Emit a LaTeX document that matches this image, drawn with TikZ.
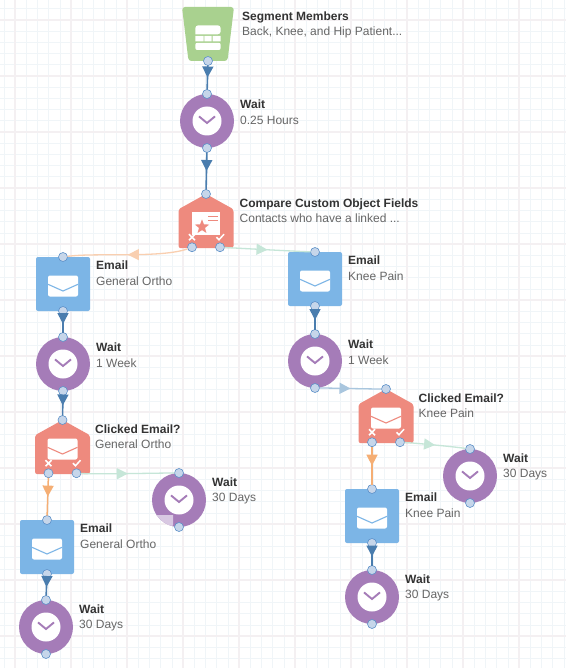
\documentclass[tikz,border=0pt]{standalone}
\usepackage{fontspec}
\setmainfont{Liberation Sans}
\usetikzlibrary{arrows.meta,positioning,shapes.symbols,decorations.markings}
\definecolor{gridmajor}{HTML}{F4F0F2}
\definecolor{gridminor}{HTML}{F0F5F8}
\definecolor{segfill}{HTML}{A9D18F}
\definecolor{waitfill}{HTML}{A57CB8}
\definecolor{waitfade}{HTML}{D8C8E2}
\definecolor{mailfill}{HTML}{7CB5E6}
\definecolor{gatefill}{HTML}{EE8A7E}
\definecolor{portfill}{HTML}{C6D6EA}
\definecolor{portline}{HTML}{5C90C8}
\definecolor{flowblue}{HTML}{4A7DAE}
\definecolor{flowpale}{HTML}{A9C6DE}
\definecolor{floworange}{HTML}{F5AE74}
\definecolor{flowpeach}{HTML}{F9CFB0}
\definecolor{flowgreen}{HTML}{C6E6D8}
\tikzset{
  seg/.style={rectangle,minimum width=52pt,minimum height=54pt,inner sep=0pt,outer sep=0pt},
  wait/.style={circle,fill=waitfill,minimum size=54pt,inner sep=0pt,outer sep=0pt},
  mail/.style={rectangle,fill=mailfill,minimum size=54pt,inner sep=0pt,outer sep=0pt,rounded corners=2pt},
  gate/.style={signal,signal to=north,signal from=nowhere,signal pointer angle=122,fill=gatefill,minimum width=55pt,minimum height=39pt,inner sep=0pt,outer sep=0pt,rounded corners=2.5pt},
  port/.style={circle,fill=portfill,draw=portline,line width=.6pt,minimum size=9pt,inner sep=0pt,outer sep=0pt},
  lbl/.style={align=left,inner sep=0pt,text=black!60,font=\fontsize{12}{15.6}\selectfont,yshift=9pt},
  tipat/.style={postaction={decorate},decoration={markings,mark=at position .5 with {\arrow[#1]{Triangle[width=11pt,length=11pt]}}}},
  flow/.style={draw=flowblue,line width=1.6pt,tipat=flowblue},
  palegreen/.style={draw=flowgreen,line width=1.3pt,tipat=flowgreen},
  paleblue/.style={draw=flowpale,line width=1.3pt,tipat=flowpale},
  peach/.style={draw=flowpeach,line width=1.3pt,tipat=flowpeach},
  amber/.style={draw=floworange,line width=1.5pt,tipat=floworange},
  clock/.pic={
    \fill[white] (0,0) circle (14.5);
    \draw[waitfill,line width=1.9pt] (-8,4.6)--(0,-2)--(8,4.6);
  },
  envelope/.pic={
    \fill[white,rounded corners=2pt] (-15,-10.5) rectangle (15,10.5);
    \draw[#1,line width=1.1pt] (-15,1.7)--(0,-5)--(15,1.7);
  },
  marks/.pic={
    \draw[white,line width=1.5pt] (-17,-3)--(-11,3) (-17,3)--(-11,-3);
    \draw[white,line width=1.5pt] (10.5,0)--(13,-2.5)--(18,3);
  },
  burger/.pic={
    \fill[white,rounded corners=3pt] (-12.7,-.3)--(-12.7,8.7)--(12.7,8.7)--(12.7,-.3)[sharp corners]--cycle;
    \fill[white] (-12.7,-7.3) rectangle (-4.5,-2) (-3.7,-7.3) rectangle (3.7,-2) (4.5,-7.3) rectangle (12.7,-2);
    \fill[white,rounded corners=2pt] (-12.7,-16) rectangle (12.7,-8.8);
  },
  card/.pic={
    \fill[white] (-14,-11.5) rectangle (14,11.5);
    \begin{scope}[shift={(-4,-3.4)}]
    \fill[gatefill] (90:7.5)--(126:3.2)--(162:7.5)--(198:3.2)--(234:7.5)--(270:3.2)--(306:7.5)--(342:3.2)--(18:7.5)--(54:3.2)--cycle;
    \end{scope}
    \draw[gatefill,line width=1.1pt] (2,7)--(12,7) (2,3)--(12,3);
  }
}
\begin{document}
\begin{tikzpicture}[x=1pt,y=1pt,every node/.style={font=\fontsize{12}{15.6}\selectfont}]
\useasboundingbox (0,0) rectangle (566,-668);
\fill[white] (0,0) rectangle (566,-668);
% grid
\foreach \n in {0,...,50} {\draw[gridminor,line width=.6pt] ({3.8+11.2*\n},0)--({3.8+11.2*\n},-668);}
\foreach \n in {0,...,60} {\draw[gridminor,line width=.6pt] (0,{-8.8-11.2*\n})--(566,{-8.8-11.2*\n});}
\foreach \n in {0,...,10} {\draw[gridmajor,line width=1.1pt] ({15+56*\n},0)--({15+56*\n},-668);}
\foreach \n in {0,...,11} {\draw[gridmajor,line width=1.1pt] (0,{-20-56*\n})--(566,{-20-56*\n});}
% centre column
\node[seg] (s1) at (208,-34) {};
\fill[segfill,rounded corners=3pt] (s1.north west)--(s1.north east)--([xshift=-6.5pt]s1.south east)--([xshift=6.5pt]s1.south west)--cycle;
\node[wait,below=33pt of s1,xshift=-1pt] (w1) {};
\node[gate,below=46pt of w1,xshift=-1pt] (g1) {};
% left column
\node[mail] (m1) at (63,-284) {};
\node[wait,below=26pt of m1] (w2) {};
\node[gate,below=29pt of w2,xshift=-.5pt] (g2) {};
\node[wait] (w3) at (179,-500) {};
\node[mail] (m2) at (47,-547) {};
\node[wait,below=26pt of m2,xshift=-1pt] (w4) {};
% right column
\node[mail] (m3) at (315,-279) {};
\node[wait,below=28pt of m3] (w5) {};
\node[gate,anchor=north] (g3) at (386,-389) {};
\node[wait] (w6) at (470,-476) {};
\node[mail] (m4) at (372,-516) {};
\node[wait,below=27pt of m4] (w7) {};
% faded corner
\begin{scope}
\clip (w3) circle (27);
\fill[waitfade] (157,-515) -| (173,-525) -- (168,-530) -- (150,-530) |- cycle;
\end{scope}
% icons
\foreach \w in {w1,w2,w3,w4,w5,w6,w7} {\pic at (\w) {clock};}
\foreach \m in {m1,m2,m3,m4} {\pic at ([yshift=-2pt]\m) {envelope=mailfill};}
\pic at (s1) {burger};
\pic at ([yshift=-29.5pt]g1.north) {card};
\pic at ([yshift=-29pt]g2.north) {envelope=gatefill};
\pic at ([yshift=-29pt]g3.north) {envelope=gatefill};
\pic at ([yshift=11pt]g1.south) {marks};
\pic at ([yshift=11pt]g2.south) {marks};
\pic at ([yshift=11pt]g3.south) {marks};
% labels
\node[lbl,right=8pt of s1] (l1) {\textcolor{black!80}{\textbf{Segment Members}}\\Back, Knee, and Hip Patient...};
\node[lbl,right=6pt of w1] (l2) {\textcolor{black!80}{\textbf{Wait}}\\0.25 Hours};
\node[lbl,right=6pt of g1,yshift=9pt] (l3) {\textcolor{black!80}{\textbf{Compare Custom Object Fields}}\\Contacts who have a linked ...};
\node[lbl,right=6pt of m1,yshift=1.5pt] (l4) {\textcolor{black!80}{\textbf{Email}}\\General Ortho};
\node[lbl,right=6pt of w2] (l5) {\textcolor{black!80}{\textbf{Wait}}\\1 Week};
\node[lbl,right=5pt of g2,yshift=9pt] (l6) {\textcolor{black!80}{\textbf{Clicked Email?}}\\General Ortho};
\node[lbl,right=6pt of w3] (l7) {\textcolor{black!80}{\textbf{Wait}}\\30 Days};
\node[lbl,right=6pt of m2,yshift=1.5pt] (l8) {\textcolor{black!80}{\textbf{Email}}\\General Ortho};
\node[lbl,right=6pt of w4] (l9) {\textcolor{black!80}{\textbf{Wait}}\\30 Days};
\node[lbl,right=6pt of m3,yshift=1.5pt] (l10) {\textcolor{black!80}{\textbf{Email}}\\Knee Pain};
\node[lbl,right=6pt of w5] (l11) {\textcolor{black!80}{\textbf{Wait}}\\1 Week};
\node[lbl,right=5pt of g3,yshift=9pt] (l12) {\textcolor{black!80}{\textbf{Clicked Email?}}\\Knee Pain};
\node[lbl,right=6pt of w6] (l13) {\textcolor{black!80}{\textbf{Wait}}\\30 Days};
\node[lbl,right=6pt of m4,yshift=1.5pt] (l14) {\textcolor{black!80}{\textbf{Email}}\\Knee Pain};
\node[lbl,right=6pt of w7] (l15) {\textcolor{black!80}{\textbf{Wait}}\\30 Days};
% ports
\node[port] (s1o) at (s1.south) {};
\node[port] (w1i) at (w1.north) {};
\node[port] (w1o) at (w1.south) {};
\node[port] (g1i) at (g1.north) {};
\node[port] (g1n) at ([xshift=-14pt,yshift=1pt]g1.south) {};
\node[port] (g1y) at ([xshift=14pt,yshift=1pt]g1.south) {};
\node[port] (m1i) at (m1.north) {};
\node[port] (m1o) at (m1.south) {};
\node[port] (w2i) at (w2.north) {};
\node[port] (w2o) at (w2.south) {};
\node[port] (g2i) at (g2.north) {};
\node[port] (g2n) at ([xshift=-14pt,yshift=1pt]g2.south) {};
\node[port] (g2y) at ([xshift=14pt,yshift=1pt]g2.south) {};
\node[port] (w3i) at (w3.north) {};
\node[port] (w3o) at (w3.south) {};
\node[port] (m2i) at (m2.north) {};
\node[port] (m2o) at (m2.south) {};
\node[port] (w4i) at (w4.north) {};
\node[port] (w4o) at (w4.south) {};
\node[port] (m3i) at (m3.north) {};
\node[port] (m3o) at (m3.south) {};
\node[port] (w5i) at (w5.north) {};
\node[port] (w5o) at (w5.south) {};
\node[port] (g3i) at (g3.north) {};
\node[port] (g3n) at ([xshift=-14pt,yshift=1pt]g3.south) {};
\node[port] (g3y) at ([xshift=14pt,yshift=1pt]g3.south) {};
\node[port] (w6i) at (w6.north) {};
\node[port] (w6o) at (w6.south) {};
\node[port] (m4i) at (m4.north) {};
\node[port] (m4o) at (m4.south) {};
\node[port] (w7i) at (w7.north) {};
\node[port] (w7o) at (w7.south) {};
% connectors
\draw[flow] (s1o)--(w1i);
\draw[flow] (w1o)--(g1i);
\draw[flow] (m1o)--(w2i);
\draw[flow] (w2o)--(g2i);
\draw[flow] (m2o)--(w4i);
\draw[flow] (m3o)--(w5i);
\draw[flow] (m4o)--(w7i);
\draw[peach] (g1n) to[out=200,in=8,looseness=.6] (m1i);
\draw[palegreen] (g1y) to[out=-3,in=178,looseness=.5] (m3i);
\draw[palegreen] (g2y) to[out=-3,in=180,looseness=.5] (w3i);
\draw[palegreen] (g3y) to[out=-3,in=172,looseness=.5] (w6i);
\draw[paleblue] (w5o) to[out=0,in=180,looseness=.5] (g3i);
\draw[amber] (g2n)--(m2i);
\draw[amber] (g3n)--(m4i);
\end{tikzpicture}
\end{document}
